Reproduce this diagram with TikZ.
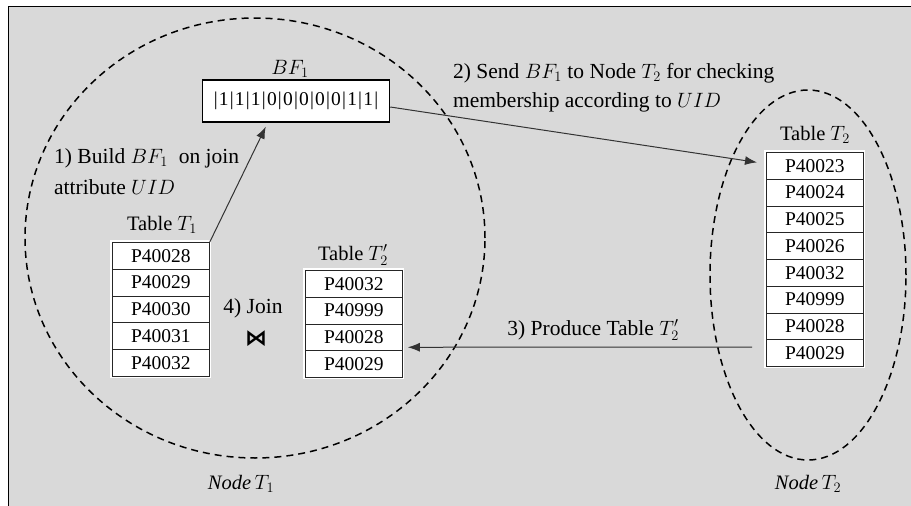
\documentclass[tikz,border=0pt]{standalone}
\usepackage{fontspec}
\setmainfont{Liberation Serif}
\newfontfamily\djv{DejaVu Sans}
\usetikzlibrary{arrows.meta,shapes.geometric}
\newcommand\vb{\kern1.2pt|\kern1.2pt}
\begin{document}
\begin{tikzpicture}[x=1pt,y=-1pt,
  every node/.style={font=\fontsize{20.5pt}{31pt}\selectfont, inner sep=0pt},
  steplbl/.style={font=\fontsize{21.5pt}{31pt}\selectfont},
  cell/.style={draw=black!85, line width=0.8pt, fill=white, minimum width=97pt, minimum height=26.75pt, anchor=north west, font=\fontsize{19.5pt}{24pt}\selectfont},
  conn/.style={draw=black!80, line width=1pt, -{Latex[length=12pt,width=9pt]}},
  region/.style={draw=black, line width=1.5pt, dash pattern=on 7pt off 5pt, ellipse},
  halo/.style={fill=white},
]
\useasboundingbox (0,0) rectangle (911,506);
\fill[gray!30] (8,6) rectangle (911,506);
\draw[line width=1pt] (8,506) -- (8,6) -- (911,6);

% regions
\node[region, minimum width=460pt, minimum height=440pt] (reg1) at (255,238) {};
\node[region, minimum width=196pt, minimum height=370pt] (reg2) at (808,275) {};
\node (n1l) at (241,484) {\textit{Node}\,$T_1$};
\node (n2l) at (808,484) {\textit{Node}\,$T_2$};

% Bloom filter
\node (bflbl) at (290,69) {$BF_1$};
\node[draw=black, line width=1.5pt, fill=white, minimum width=187pt, minimum height=42pt, font=\fontsize{19.5pt}{24pt}\selectfont] (bf) at (296,101) {\vb1\vb1\vb1\vb0\vb0\vb0\vb0\vb0\vb1\vb1\vb};

% white halos behind tables
\fill[halo] (110,240) rectangle (211,378);
\fill[halo] (303,268) rectangle (404,379);
\fill[halo] (764,150) rectangle (865,368);

% Table T1
\node (t1l) at (162,225) {Table $T_1$};
\foreach \v [count=\i] in {P40028,P40029,P40030,P40031,P40032}
  \node[cell] (t1r\i) at (112,{242+26.75*(\i-1)}) {\v};

% Table T2'
\node (tpl) at (353,255) {Table $T_2'$};
\foreach \v [count=\i] in {P40032,P40999,P40028,P40029}
  \node[cell] (tpr\i) at (305,{270+26.75*(\i-1)}) {\v};

% Table T2
\node (t2l) at (815,135) {Table $T_2$};
\foreach \v [count=\i] in {P40023,P40024,P40025,P40026,P40032,P40999,P40028,P40029}
  \node[cell] (t2r\i) at (766,{152+26.75*(\i-1)}) {\v};

% labels
\node[steplbl, anchor=west, align=left] (l1) at (54,172) {1) Build $BF_1$\hspace{11pt}on join\\attribute $UID$};
\node[steplbl, anchor=west, align=left, font=\fontsize{21.5pt}{29pt}\selectfont] (l2) at (453,88) {2) Send $BF_1$ to Node $T_2$ for checking\\membership according to $UID$};
\node[steplbl, anchor=east] (l3) at (679,330) {3) Produce Table $T_2'$};
\node[steplbl] (l4) at (253,308) {4) Join};
\node[font=\fontsize{22pt}{24pt}\djv\bfseries] (bt) at (256,339) {⋈};

% connectors
\draw[conn] (t1r1.north east) -- ([xshift=64pt,yshift=-4pt]bf.south west);
\draw[conn] ([yshift=-6pt]bf.east) -- ([xshift=-9pt,yshift=3.4pt]t2r1.west);
\coordinate (a3) at (752,347);
\draw[conn] (a3) -- ([xshift=5pt,yshift=-10pt]tpr3.east);
\end{tikzpicture}
\end{document}
